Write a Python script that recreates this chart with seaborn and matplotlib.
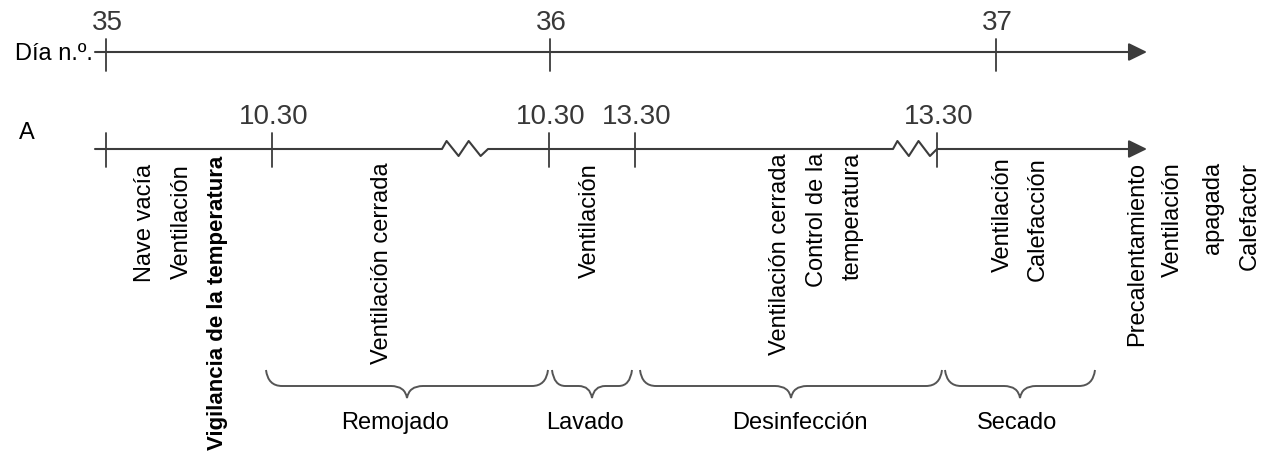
import matplotlib
matplotlib.use("Agg")
import matplotlib.pyplot as plt
import seaborn as sns
from matplotlib.path import Path
from matplotlib.patches import PathPatch

# =====================================
# Datos del diagrama
# =====================================

dias = ["35", "36", "37"]
horas_a = ["", "10.30", "10.30", "13.30", "13.30"]

etiquetas_verticales = [
    "Nave vacía", "Ventilación", "Vigilancia de la temperatura",
    "Ventilación cerrada", "Ventilación",
    "Ventilación cerrada", "Control de la", "temperatura",
    "Ventilación", "Calefacción",
    "Precalentamiento", "Ventilación", "apagada", "Calefactor",
]
negrita = ["Vigilancia de la temperatura"]

fases = ["Remojado", "Lavado", "Desinfección", "Secado"]

# =====================================
# Disposición (pixeles de la figura)
# =====================================

x_dias = [106, 550, 996]
x_horas = [106, 272, 549, 635, 937]
x_verticales = [145, 182, 218, 382, 590, 780, 817, 853,
                1003, 1038, 1137, 1173, 1213, 1250]
y_verticales = [164, 164, 156, 162, 163, 153, 153, 153,
                157, 157, 162, 162, 162, 162]
llaves = [(266, 548), (552, 632), (640, 942), (945, 1095)]
x_fases = [395, 585, 800, 1017]
zigzags = [(442, 488), (893, 937)]

Y_DIA = 53
Y_A = 150
COLOR_LINEA = "#3c3c3c"

sns.set_theme(style="white")
plt.rcParams["font.family"] = ["Liberation Sans", "DejaVu Sans"]

fig = plt.figure(figsize=(12.67, 4.52), dpi=100)
ax = fig.add_axes([0, 0, 1, 1])
ax.set_xlim(0, 1267)
ax.set_ylim(452, 0)
ax.axis("off")


def flecha(ax, y, x1):
    ax.annotate("", xy=(x1, y), xytext=(x1 - 16, y),
                arrowprops=dict(arrowstyle="-|>,head_length=0.45,head_width=0.22",
                                color=COLOR_LINEA, lw=1.5, mutation_scale=25,
                                shrinkA=0, shrinkB=0))


# =====================================
# Eje de días
# =====================================

ax.plot([95, 1133], [Y_DIA, Y_DIA], color=COLOR_LINEA, lw=1.5)
flecha(ax, Y_DIA, 1147)
for x, d in zip(x_dias, dias):
    ax.plot([x, x], [40, 72], color=COLOR_LINEA, lw=1.3)
    ax.text(x + 1, 23, d, ha="center", va="center", fontsize=20, color="#383838")
ax.text(15, 54, "Día n.º.", ha="left", va="center", fontsize=17, color="black")

# =====================================
# Línea A con cortes en zigzag
# =====================================

xs = [95]
ys = [Y_A]
for z0, z1 in zigzags:
    paso = (z1 - z0) / 5
    xs += [z0, z0 + paso * 0.5, z0 + paso * 1.8, z0 + paso * 2.9, z0 + paso * 4.2, z1]
    ys += [Y_A, Y_A - 8, Y_A + 7, Y_A - 8, Y_A + 7, Y_A]
xs.append(1133)
ys.append(Y_A)
ax.plot(xs, ys, color=COLOR_LINEA, lw=1.5)
flecha(ax, Y_A, 1147)

for x, h in zip(x_horas, horas_a):
    ax.plot([x, x], [134, 168], color=COLOR_LINEA, lw=1.3)
    if h:
        ax.text(x + 2, 117, h, ha="center", va="center", fontsize=20, color="#383838")
ax.text(27, 133, "A", ha="center", va="center", fontsize=17, color="black")

# =====================================
# Textos verticales
# =====================================

for x, y, t in zip(x_verticales, y_verticales, etiquetas_verticales):
    ax.text(x, y, t, rotation=90, ha="center", va="top",
            fontsize=16 if t in negrita else 17,
            fontweight="bold" if t in negrita else "normal", color="black")

# =====================================
# Llaves y fases
# =====================================

y_top, y_mid, y_tip = 371, 387, 399
for (x0, x1), nombre, xt in zip(llaves, fases, x_fases):
    xc = (x0 + x1) / 2
    r = min(16, (x1 - x0) / 6)
    verts = [(x0, y_top), (x0 + 2, y_mid), (x0 + r, y_mid),
             (xc - r, y_mid),
             (xc - 2, y_mid), (xc, y_tip),
             (xc + 2, y_mid), (xc + r, y_mid),
             (x1 - r, y_mid),
             (x1 - 2, y_mid), (x1, y_top)]
    codes = [Path.MOVETO, Path.CURVE3, Path.CURVE3,
             Path.LINETO,
             Path.CURVE3, Path.CURVE3,
             Path.CURVE3, Path.CURVE3,
             Path.LINETO,
             Path.CURVE3, Path.CURVE3]
    ax.add_patch(PathPatch(Path(verts, codes), fill=False,
                           edgecolor="#555555", lw=1.4))
    ax.text(xt, 423, nombre, ha="center", va="center", fontsize=17, color="black")

fig.savefig("out.png", dpi=100)
